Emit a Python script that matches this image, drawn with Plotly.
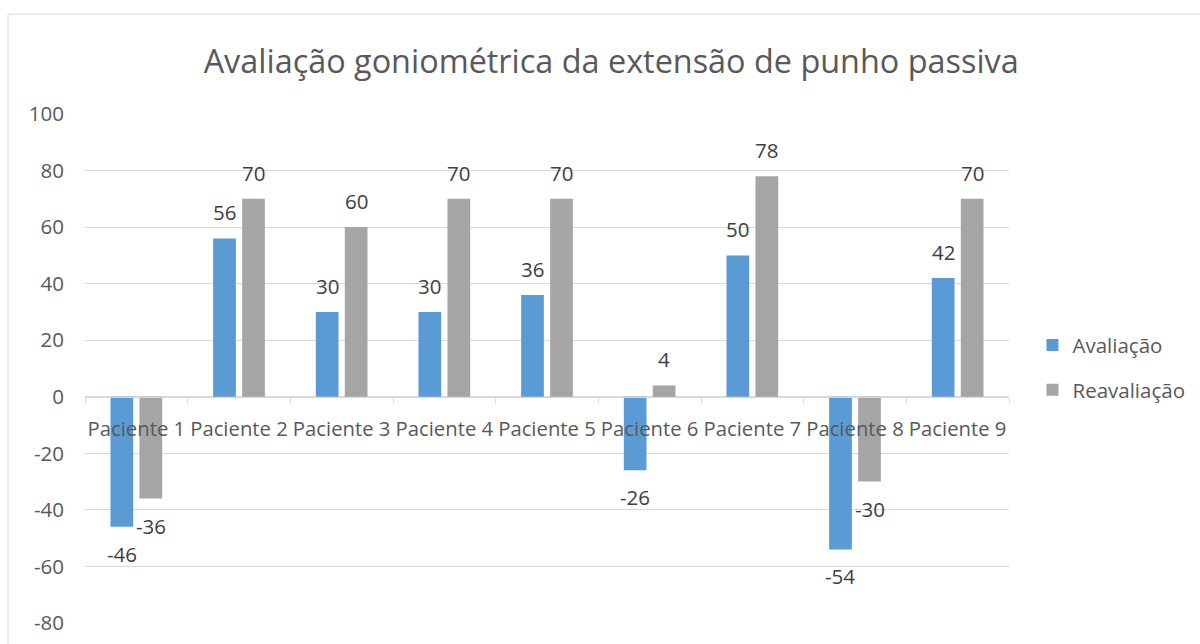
import plotly.graph_objects as go

categories = ["Paciente 1", "Paciente 2", "Paciente 3", "Paciente 4", "Paciente 5",
              "Paciente 6", "Paciente 7", "Paciente 8", "Paciente 9"]
avaliacao = [-46, 56, 30, 30, 36, -26, 50, -54, 42]
reavaliacao = [-36, 70, 60, 70, 70, 4, 78, -30, 70]
y_ticks = [-80, -60, -40, -20, 0, 20, 40, 60, 80, 100]

BLUE = "#5B9BD5"
GRAY = "#A5A5A5"
TXT = "#595959"
LBL = "#404040"
GRID = "#D9D9D9"
FONT = "Open Sans"

W, H = 1200, 644
L, R, T, B = 85, 1200 - 1009.5, 114, 644 - 623.5
pw = W - L - R
ph = H - T - B

fig = go.Figure()
fig.add_trace(go.Bar(x=categories, y=avaliacao, name="Avaliação",
                     marker=dict(color=BLUE, line=dict(width=0)), legendgroup="a"))
fig.add_trace(go.Bar(x=categories, y=reavaliacao, name="Reavaliação",
                     marker=dict(color=GRAY, line=dict(width=0)), legendgroup="b"))

# data labels
cat_w = pw / len(categories)
slot = cat_w * (1 - 0.435) / 2
for series, xs in ((avaliacao, -slot / 2), (reavaliacao, slot / 2)):
    for c, v in zip(categories, series):
        fig.add_annotation(x=c, y=v, text=str(v), showarrow=False,
                           xshift=xs, yshift=26 if v >= 0 else -27,
                           yanchor="middle", xanchor="center",
                           font=dict(family=FONT, size=20.5, color=LBL))

# outer chart border
fig.add_shape(type="rect", xref="paper", yref="paper",
              x0=(8 - L) / pw, x1=(1300 - L) / pw,
              y0=(H - B - 700) / ph, y1=(H - B - 14) / ph,
              line=dict(color=GRID, width=1), fillcolor="rgba(0,0,0,0)", layer="below")

fig.update_layout(
    width=W, height=H,
    margin=dict(l=L, r=R, t=T, b=B, autoexpand=False),
    paper_bgcolor="white", plot_bgcolor="white",
    barmode="group", bargap=0.435, bargroupgap=0.217,
    title=dict(text="Avaliação goniométrica da extensão de punho passiva",
               x=(611.5 - L) / pw, xref="paper", xanchor="center",
               y=1 - 62 / H, yanchor="middle",
               font=dict(family=FONT, size=32.4, color=TXT)),
    legend=dict(x=(1033 - L) / pw, xanchor="left", y=(H - B - 368) / ph, yanchor="middle",
                font=dict(family=FONT, size=20.5, color=TXT),
                traceorder="grouped", tracegroupgap=15, bgcolor="rgba(0,0,0,0)"),
    xaxis=dict(type="category", anchor="free", position=80 / 180, automargin=False,
               showline=True, linecolor=GRID, linewidth=1,
               ticks="outside", tickson="boundaries", ticklen=5, tickcolor=GRID,
               showgrid=False, ticklabelstandoff=14, tickangle=0,
               tickfont=dict(family=FONT, size=20.3, color=TXT)),
    yaxis=dict(range=[-80, 100], tickvals=y_ticks, ticktext=[str(v) for v in y_ticks],
               automargin=False,
               showgrid=True, gridcolor=GRID, gridwidth=1,
               zeroline=True, zerolinecolor=GRID, zerolinewidth=1,
               showline=False, ticks="", ticklabelstandoff=20,
               tickfont=dict(family=FONT, size=20.5, color=TXT)),
    showlegend=True,
)

fig.write_html("out.html")
